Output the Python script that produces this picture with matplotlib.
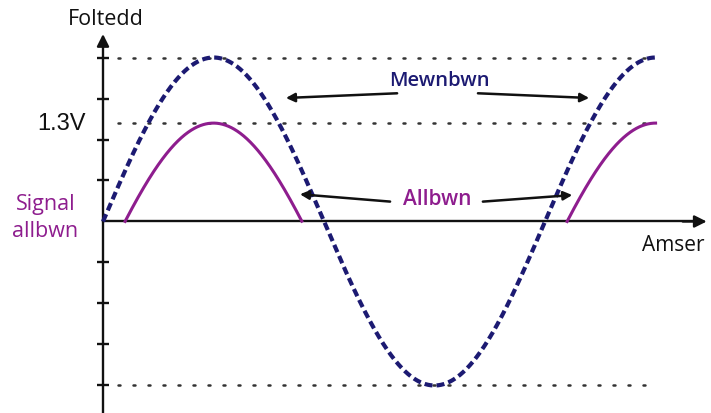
import numpy as np
import matplotlib
matplotlib.use("Agg")
import matplotlib.pyplot as plt

# --- values (time in radians, voltage in tick steps) ---
input_amplitude = 4.0          # dashed input sine peaks on the top / bottom ticks
output_amplitude = 3.47        # rectified output (input minus the diode drop)
output_drop = 1.07
t_end = 2.5 * np.pi            # curves stop at the second peak
tick_levels = [-4, -3, -2, -1, 1, 2, 3, 4]
ref_levels = [4.0, 2.4, -4.0]  # dotted guide lines
ref_ends = [7.89, 7.85, 7.85]
peak_label = "1.3V"

blue = "#1c1a72"
purple = "#8e1d8e"
text_font = ["Open Sans", "DejaVu Sans"]

t = np.linspace(0, t_end, 3000)
v_in = input_amplitude * np.sin(t)
v_out = output_amplitude * np.sin(t) - output_drop
v_out = np.where(v_out >= 0, v_out, np.nan)

fig = plt.figure(figsize=(7.11, 4.14), dpi=100)
ax = fig.add_axes([0, 0, 1, 1])
ax.set_xlim(-1.464, 8.642)
ax.set_ylim(-4.671, 5.427)

# axes through the origin, with ticks crossing the vertical axis
for side in ["top", "right"]:
    ax.spines[side].set_visible(False)
ax.spines["left"].set_position(("data", 0))
ax.spines["bottom"].set_position(("data", 0))
ax.spines["left"].set_bounds(-4.671, 4.4)
ax.spines["bottom"].set_bounds(0, 8.4)
for side in ["left", "bottom"]:
    ax.spines[side].set_linewidth(1.7)
    ax.spines[side].set_color("#111111")
ax.set_xticks([])
ax.set_yticks(tick_levels)
ax.set_yticklabels([])
ax.tick_params(axis="y", direction="inout", length=9, width=1.7, color="#111111")

# arrow heads on the axes
arrow = dict(arrowstyle="-|>", color="#111111", lw=1.7, mutation_scale=18)
ax.annotate("", xy=(0, 4.64), xytext=(0, 4.2), arrowprops=arrow)
ax.annotate("", xy=(8.62, 0), xytext=(8.2, 0), arrowprops=arrow)

# dotted guide lines
for lvl, end in zip(ref_levels, ref_ends):
    ax.plot([0.21, end], [lvl, lvl], color="#333333", lw=1.8,
            linestyle=(0, (0.8, 5.2)), dash_capstyle="round", zorder=1)

# the two waveforms
ax.plot(t, v_in, color=blue, lw=3, dashes=(1.9, 1.0), zorder=3)
ax.plot(t, v_out, color=purple, lw=2.2, zorder=4)

# labels
ax.text(0.04, 4.94, "Foltedd", ha="center", va="center", fontsize=15.5, family=text_font,
        color="#111111", fontweight="medium")
ax.text(8.10, -0.55, "Amser", ha="center", va="center", fontsize=15, family=text_font,
        color="#111111", fontweight="medium")
ax.text(-0.25, 2.40, peak_label, ha="right", va="center", fontsize=17, family="Liberation Sans",
        color="#111111")
ax.text(-0.82, 0.11, "Signal\nallbwn", ha="center", va="center", fontsize=15.5, family=text_font,
        color=purple, linespacing=1.35, fontweight="medium")
ax.text(4.78, 3.45, "Mewnbwn", ha="center", va="center", fontsize=14.5, family=text_font,
        color=blue, fontweight="semibold")
ax.text(4.75, 0.55, "Allbwn", ha="center", va="center", fontsize=15, family=text_font,
        color=purple, fontweight="semibold")

# pointer arrows
pointer = dict(arrowstyle="-|>", color="#111111", lw=1.8, mutation_scale=13)
ax.annotate("", xy=(2.56, 3.01), xytext=(4.22, 3.13), arrowprops=pointer)
ax.annotate("", xy=(6.95, 3.01), xytext=(5.29, 3.13), arrowprops=pointer)
ax.annotate("", xy=(2.76, 0.67), xytext=(4.12, 0.48), arrowprops=pointer)
ax.annotate("", xy=(6.71, 0.65), xytext=(5.36, 0.48), arrowprops=pointer)

fig.savefig("out.png", dpi=100, facecolor="white")
